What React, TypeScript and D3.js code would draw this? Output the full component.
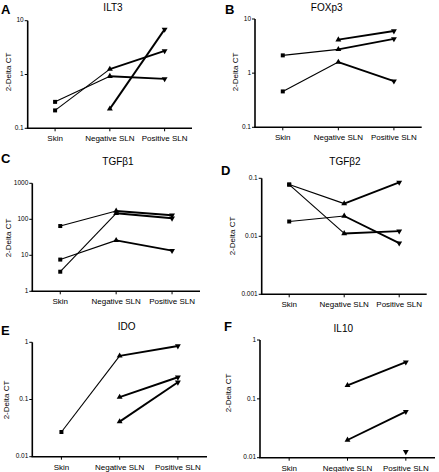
import React from "react";
import * as d3 from "d3";

const categories = ["Skin", "Negative SLN", "Positive SLN"];

// each series: values at [Skin, Negative SLN, Positive SLN]; null = missing
const ilt3Series: (number | null)[][] = [
  [0.31, 0.93, 0.83],
  [0.215, 1.26, 2.75],
  [null, 0.23, 6.9],
];
const foxp3Series: (number | null)[][] = [
  [2.13, 2.75, 4.3],
  [0.46, 1.6, 0.71],
  [null, 4.15, 6.0],
];
const tgfb1Series: (number | null)[][] = [
  [65, 170, 129],
  [7.6, 26, 13.5],
  [3.5, 147, 107],
];
const tgfb2Series: (number | null)[][] = [
  [0.078, 0.0366, 0.085],
  [0.078, 0.0112, 0.0123],
  [0.018, 0.0224, 0.0076],
];
const idoSeries: (number | null)[][] = [
  [0.027, 0.58, 0.86],
  [null, 0.11, 0.245],
  [null, 0.041, 0.2],
];
const il10Series: (number | null)[][] = [
  [null, 0.17, 0.42],
  [null, 0.02, 0.0605],
  [null, null, 0.0126],
];

const titles = ["ILT3", "FOXp3", "TGF\u03B21", "TGF\u03B22", "IDO", "IL10"];
const letters = ["A", "B", "C", "D", "E", "F"];
const yTicksA = [0.1, 1, 10];
const yTicksB = [0.1, 1, 10];
const yTicksC = [1, 10, 100, 1000];
const yTicksD = [0.001, 0.01, 0.1];
const yTicksE = [0.01, 0.1, 1];
const yTicksF = [0.01, 0.1, 1];
const yLabel = "2-Delta CT";

const FONT = "'Liberation Sans', Arial, Helvetica, sans-serif";

type Layout = {
  x0: number; x1: number; yTop: number; yBot: number;
  letter: [number, number]; title: [number, number]; ylab: [number, number];
};

const layouts: Layout[] = [
  { x0: 27.7, x1: 192, yTop: 20.7, yBot: 128.3, letter: [1, 13.5], title: [113, 11], ylab: [8.5, 72] },
  { x0: 255, x1: 421.7, yTop: 19, yBot: 127.3, letter: [225, 13.5], title: [326.7, 11], ylab: [236, 72] },
  { x0: 32.3, x1: 200, yTop: 183.3, yBot: 291.3, letter: [1, 163], title: [118, 165], ylab: [9, 238] },
  { x0: 261.7, x1: 426.7, yTop: 178.3, yBot: 294.3, letter: [221, 175], title: [345, 165], ylab: [233, 236] },
  { x0: 32.3, x1: 207, yTop: 342.3, yBot: 456.7, letter: [1, 334.5], title: [126.7, 330], ylab: [6.5, 400] },
  { x0: 260, x1: 435, yTop: 340, yBot: 457.7, letter: [224, 331], title: [343.3, 331.5], ylab: [229, 393] },
];

const panelData = [ilt3Series, foxp3Series, tgfb1Series, tgfb2Series, idoSeries, il10Series];
const panelTicks = [yTicksA, yTicksB, yTicksC, yTicksD, yTicksE, yTicksF];

const fmt = (v: number) => (v >= 1 ? String(Math.round(v)) : String(+v.toPrecision(1)));

function Panel({ i }: { i: number }) {
  const L = layouts[i];
  const ticks = panelTicks[i];
  const data = panelData[i];
  const x = d3.scalePoint<string>().domain(categories).range([L.x0, L.x1]).padding(0.5);
  const y = d3
    .scaleLog()
    .domain([ticks[0], ticks[ticks.length - 1]])
    .range([L.yBot, L.yTop]);

  const square = d3.symbol().type(d3.symbolSquare).size(16)()!;
  const tri = d3.symbol().type(d3.symbolTriangle).size(15)()!;

  const segs: { a: [number, number]; b: [number, number]; w: number }[] = [];
  const pts: { x: number; y: number; c: number }[] = [];
  data.forEach((s) => {
    s.forEach((v, c) => {
      if (v == null) return;
      pts.push({ x: x(categories[c])!, y: y(v), c });
      if (c > 0 && s[c - 1] != null) {
        segs.push({
          a: [x(categories[c - 1])!, y(s[c - 1] as number)],
          b: [x(categories[c])!, y(v)],
          w: c === 1 ? 1.1 : 1.9,
        });
      }
    });
  });

  return (
    <g>
      <text x={L.letter[0]} y={L.letter[1]} fontSize={13} fontWeight="bold" fontFamily={FONT}>
        {letters[i]}
      </text>
      <text x={L.title[0]} y={L.title[1]} fontSize={10} textAnchor="middle" fontFamily={FONT}>
        {titles[i]}
      </text>
      <text
        transform={`translate(${L.ylab[0]},${L.ylab[1]}) rotate(-90)`}
        fontSize={8}
        textAnchor="middle"
        dominantBaseline="middle"
        fontFamily={FONT}
      >
        {yLabel}
      </text>
      {/* y axis */}
      <line x1={L.x0} x2={L.x0} y1={L.yTop} y2={L.yBot} stroke="#000" strokeWidth={1.6} />
      {ticks.map((t) => (
        <g key={t}>
          <line x1={L.x0 - 3} x2={L.x0} y1={y(t)} y2={y(t)} stroke="#000" strokeWidth={1} />
          <text
            x={L.x0 - 4}
            y={y(t)}
            fontSize={6.5}
            textAnchor="end"
            dominantBaseline="middle"
            fontFamily={FONT}
          >
            {fmt(t)}
          </text>
        </g>
      ))}
      {/* x axis */}
      <line x1={L.x0 - 0.8} x2={L.x1} y1={L.yBot} y2={L.yBot} stroke="#000" strokeWidth={1.6} />
      {categories.map((c) => (
        <g key={c}>
          <line x1={x(c)!} x2={x(c)!} y1={L.yBot} y2={L.yBot + 3} stroke="#000" strokeWidth={1} />
          <text x={x(c)!} y={L.yBot + 13} fontSize={8} textAnchor="middle" fontFamily={FONT}>
            {c}
          </text>
        </g>
      ))}
      {segs.map((s, k) => (
        <line key={k} x1={s.a[0]} y1={s.a[1]} x2={s.b[0]} y2={s.b[1]} stroke="#000" strokeWidth={s.w} />
      ))}
      {pts.map((p, k) => (
        <path
          key={k}
          d={p.c === 0 ? square : tri}
          transform={`translate(${p.x},${p.y})${p.c === 2 ? " rotate(180)" : ""}`}
          fill="#000"
        />
      ))}
    </g>
  );
}

export default function App() {
  return (
    <svg width={439} height={472} style={{ position: "absolute", left: 0, top: 0, background: "#fff" }}>
      <rect width={439} height={472} fill="#fff" />
      {layouts.map((_, i) => (
        <Panel key={i} i={i} />
      ))}
    </svg>
  );
}
